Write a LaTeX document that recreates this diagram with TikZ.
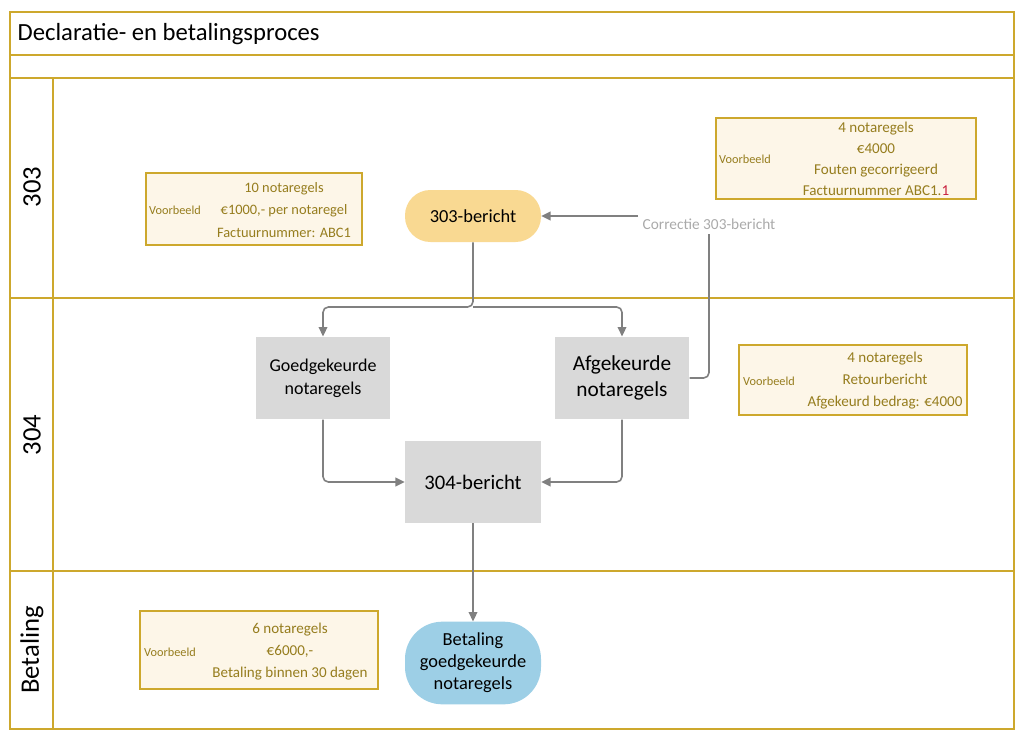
\documentclass[tikz,border=0pt]{standalone}
\usepackage{fontspec}
\setmainfont{Carlito}
\usepackage{xcolor}
\usetikzlibrary{arrows.meta, positioning, calc}
\definecolor{lanegold}{RGB}{205, 168, 45}
\definecolor{notefill}{RGB}{253, 246, 232}
\definecolor{notetext}{RGB}{150, 125, 30}
\definecolor{msgorange}{RGB}{249, 217, 146}
\definecolor{procgrey}{RGB}{217, 217, 217}
\definecolor{paidblue}{RGB}{157, 207, 230}
\definecolor{flowgrey}{RGB}{128, 128, 128}
\definecolor{corrgrey}{RGB}{170, 170, 170}
\definecolor{fixred}{RGB}{200, 30, 60}
\tikzset{
    lane/.style={draw=lanegold, line width=1.5pt},
    lanelabel/.style={rotate=90, font=\fontsize{20}{22}\selectfont},
    procbox/.style={rectangle, fill=procgrey, minimum width=101pt, minimum height=62pt, align=center},
    notebox/.style={rectangle, draw=lanegold, fill=notefill, line width=1.2pt},
    notetxt/.style={align=center, text=notetext, font=\fontsize{11.3}{16.5}\selectfont},
    voorbeeld/.style={text=notetext, font=\fontsize{9.2}{11}\selectfont},
    flow/.style={draw=flowgrey, line width=1.2pt, rounded corners=4pt, -{Triangle[length=7pt, width=6.5pt]}}
}

\begin{document}
\begin{tikzpicture}[x=0.75pt, y=-0.75pt]
    \useasboundingbox (0,0) rectangle (1024,742);
    % swimlanes
    \draw[lane] (10,12) rectangle (1014,729);
    \foreach \y in {55,78,298,571}
        \draw[lane] (10,\y) -- (1014,\y);
    \draw[lane] (53,78) -- (53,729);
    \node[anchor=west, font=\fontsize{18.5}{20}\selectfont] (title) at (13,34) {Declaratie- en betalingsproces};
    \node[lanelabel] (lane303) at (32,187) {303};
    \node[lanelabel] (lane304) at (32,435) {304};
    \node[lanelabel] (lanebet) at (32,650) {Betaling};

    % voorbeelden
    \node[notebox, minimum width=162pt, minimum height=54pt] (note303) at (254,209) {};
    \node[voorbeeld] (vb303) at (175,210) {Voorbeeld};
    \node[notetxt, font=\fontsize{10.8}{16.8}\selectfont] (txt303) at (284,210) {10 notaregels\\€1000,- per notaregel\\Factuurnummer: ABC1};

    \node[notebox, minimum width=195pt, minimum height=61pt] (notecorr) at (846,158.5) {};
    \node[voorbeeld] (vbcorr) at (745,159) {Voorbeeld};
    \node[notetxt, font=\fontsize{11.3}{15.75}\selectfont] (txtcorr) at (876,158.5) {4 notaregels\\€4000\\Fouten gecorrigeerd\\Factuurnummer ABC1.\textcolor{fixred}{1}};

    \node[notebox, minimum width=171pt, minimum height=52.5pt] (note304) at (853,380) {};
    \node[voorbeeld] (vb304) at (769,381) {Voorbeeld};
    \node[notetxt] (txt304) at (885,381) {4 notaregels\\Retourbericht\\Afgekeurd bedrag: €4000};

    \node[notebox, minimum width=178.5pt, minimum height=58.5pt] (notebet) at (259,650) {};
    \node[voorbeeld] (vbbet) at (170,652) {Voorbeeld};
    \node[notetxt] (txtbet) at (290,652) {6 notaregels\\€6000,-\\Betaling binnen 30 dagen};

    % berichten en stappen
    \node[rectangle, rounded corners=19pt, fill=msgorange, minimum width=102pt, minimum height=39pt, font=\fontsize{13.8}{16}\selectfont] (b303) at (473,216) {303-bericht};
    \node[procbox, font=\fontsize{13.5}{17}\selectfont] (goed) at (323,378) {Goedgekeurde\\notaregels};
    \node[procbox, font=\fontsize{16}{19.5}\selectfont] (afg) at (622,378) {Afgekeurde\\notaregels};
    \node[procbox, minimum width=102pt, minimum height=61.5pt, font=\fontsize{15.5}{18}\selectfont] (b304) at (473,482) {304-bericht};
    \node[rectangle, rounded corners=28pt, fill=paidblue, minimum width=102pt, minimum height=62pt, align=center, font=\fontsize{13.8}{16.5}\selectfont] (bet) at (473,663) {Betaling\\goedgekeurde\\notaregels};
    \node[text=corrgrey, font=\fontsize{11.5}{13}\selectfont] (corr) at (709,224) {Correctie 303-bericht};

    % verbindingen
    \coordinate (split) at (473,307);
    \draw[flow] (b303.south) -- (split) -| (goed.north);
    \draw[flow] (split) -| (afg.north);
    \draw[flow] (goed.south) |- (b304.west);
    \draw[flow] (afg.south) |- (b304.east);
    \draw[flow] (b304.south) -- (bet.north);
    \draw[flow, -] (afg.east) -| (corr.south);
    \draw[flow] (corr.west |- b303.east) -- (b303.east);
\end{tikzpicture}
\end{document}
